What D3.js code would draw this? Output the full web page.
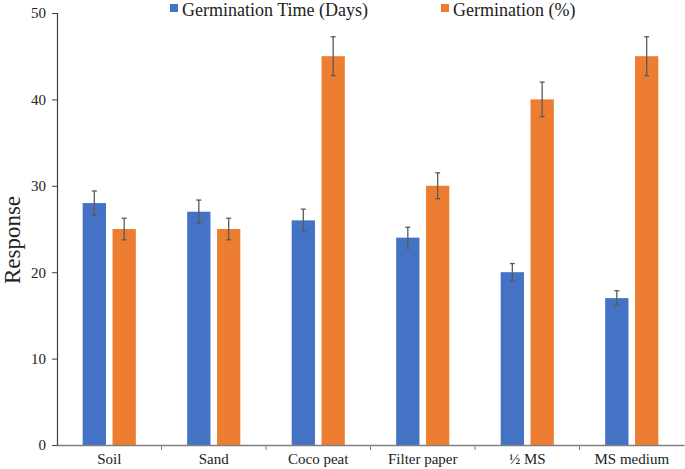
<!DOCTYPE html>
<html><head><meta charset="utf-8">
<script src="https://cdn.jsdelivr.net/npm/d3@7"></script>
<style>body{margin:0;background:#fff}svg{display:block}text{font-family:"Liberation Serif","Times New Roman",serif;fill:#222}</style>
</head><body><svg id="c" width="685" height="469"></svg>
<script>
const categories = ["Soil","Sand","Coco peat","Filter paper","½ MS","MS medium"];
const seriesNames = ["Germination Time (Days)","Germination (%)"];
const germTime = [28,27,26,24,20,17];
const germPct = [25,25,45,30,40,45];
const germTimeErr = [1.4,1.35,1.3,1.2,1.0,0.85];
const germPctErr = [1.25,1.25,2.25,1.5,2.0,2.25];
const yTicks = [0,10,20,30,40,50];
const colors = ["#4472C4","#ED7D31"];

const svg = d3.select("#c");
const m = {l:57, r:1, t:13, b:24};
const W = 685, H = 469;
const x = d3.scaleBand().domain(categories).range([m.l, W-m.r]).paddingInner(0).paddingOuter(0);
const y = d3.scaleLinear().domain([0,50]).range([H-m.b, m.t]);
const x1 = d3.scaleBand().domain([0,1]).range([0, x.bandwidth()]).paddingInner(0.22).paddingOuter(0.86);

const series = [germTime, germPct];
const errs = [germTimeErr, germPctErr];
const data = [];
categories.forEach((c,i)=>series.forEach((s,j)=>data.push({c, j, v:s[i], e:errs[j][i]})));

svg.selectAll("rect.bar").data(data).join("rect").attr("class","bar")
  .attr("x", d=>x(d.c)+x1(d.j)).attr("width", x1.bandwidth())
  .attr("y", d=>y(d.v)).attr("height", d=>y(0)-y(d.v)).attr("fill", d=>colors[d.j]);

const eg = svg.append("g").attr("stroke","#5a5a5a").attr("stroke-width",1.3);
data.forEach(d=>{
  const cx = x(d.c)+x1(d.j)+x1.bandwidth()/2;
  eg.append("line").attr("x1",cx).attr("x2",cx).attr("y1",y(d.v+d.e)).attr("y2",y(d.v-d.e));
  eg.append("line").attr("x1",cx-2.5).attr("x2",cx+2.5).attr("y1",y(d.v+d.e)).attr("y2",y(d.v+d.e));
  eg.append("line").attr("x1",cx-2.5).attr("x2",cx+2.5).attr("y1",y(d.v-d.e)).attr("y2",y(d.v-d.e));
});

// y axis
const ya = svg.append("g").attr("transform",`translate(${m.l},0)`)
  .call(d3.axisLeft(y).tickValues(yTicks).tickSize(5).tickPadding(6));
ya.select(".domain").attr("stroke","#404040").attr("stroke-width",1.2);
ya.selectAll(".tick line").attr("stroke","#404040");
ya.selectAll("text").attr("font-size",15).attr("fill","#222").style("font-family","Liberation Serif");

// x axis
const xa = svg.append("g").attr("transform",`translate(0,${y(0)})`)
  .call(d3.axisBottom(x).tickSize(0).tickPadding(8));
xa.select(".domain").attr("stroke","#808080").attr("stroke-width",1.5);
xa.selectAll("text").attr("font-size",15).attr("fill","#222").style("font-family","Liberation Serif");
const bounds = categories.map(c=>x(c)).slice(1);
svg.append("g").selectAll("line").data(bounds).join("line")
  .attr("x1",d=>d).attr("x2",d=>d).attr("y1",y(0)).attr("y2",y(0)+5).attr("stroke","#808080");

// y label
svg.append("text").attr("transform",`translate(20,240) rotate(-90)`)
  .attr("text-anchor","middle").attr("font-size",23).text("Response");

// legend
const legX = [170, 441];
const lg = svg.append("g");
seriesNames.forEach((n,i)=>{
  lg.append("rect").attr("x",legX[i]).attr("y",4).attr("width",8).attr("height",8).attr("fill",colors[i]);
  lg.append("text").attr("x",legX[i]+12).attr("y",16).attr("font-size",18).text(n);
});
</script></body></html>
